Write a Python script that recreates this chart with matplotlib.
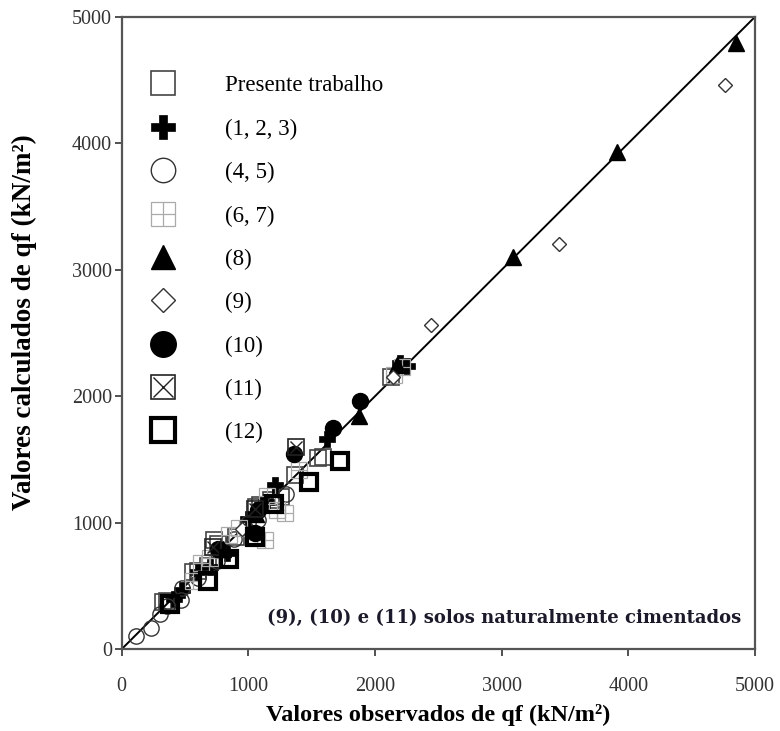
import numpy as np
import matplotlib
matplotlib.use("Agg")
import matplotlib.pyplot as plt

plt.rcParams['font.family'] = ['Liberation Serif', 'DejaVu Serif']

# observed (x) vs calculated (y) qf, kN/m2
pres_x = [330, 360, 560, 600, 730, 760, 1060, 1090, 1180, 1260, 1370, 1550, 1590, 900, 680, 2130]
pres_y = [370, 380, 610, 620, 860, 830, 1120, 1140, 1180, 1200, 1380, 1510, 1520, 890, 660, 2150]

cross_x = [2200, 2250, 1620, 1210, 1110, 1140, 830, 700, 600, 480, 410, 1000]
cross_y = [2260, 2240, 1660, 1300, 1140, 1160, 760, 650, 610, 470, 400, 1030]

circ_x = [110, 230, 300, 360, 470, 480, 600, 750, 890, 1080, 1300, 1200, 1000]
circ_y = [100, 170, 280, 340, 390, 480, 560, 700, 870, 1020, 1230, 1150, 1000]

grid_x = [1290, 1230, 1130, 1150, 560, 850, 1400, 2150, 2210, 700, 930, 630]
grid_y = [1080, 1100, 860, 1210, 540, 900, 1420, 2170, 2230, 720, 960, 680]

tri_x = [4850, 3910, 3090, 2170, 1870, 1060, 800]
tri_y = [4790, 3930, 3100, 2250, 1840, 1070, 790]

diam_x = [4760, 3450, 2440, 2140, 950]
diam_y = [4460, 3200, 2560, 2150, 950]

fcirc_x = [1880, 1670, 1360, 1080, 1050, 760]
fcirc_y = [1960, 1750, 1540, 1100, 920, 790]

xsq_x = [1380, 1050, 720]
xsq_y = [1600, 1110, 810]

tsq_x = [1720, 1480, 1050, 850, 680, 380, 1200]
tsq_y = [1490, 1320, 890, 710, 540, 360, 1150]

labels = ['Presente trabalho', '(1, 2, 3)', '(4, 5)', '(6, 7)', '(8)', '(9)',
          '(10)', '(11)', '(12)']

fig = plt.figure(figsize=(7.8, 7.31), dpi=100)
ax = fig.add_axes([0.156, 0.112, 0.812, 0.865])

ax.plot([0, 5000], [0, 5000], color='black', lw=1.4, zorder=1)

h = []
h.append(ax.plot(pres_x, pres_y, 's', ms=11, mfc='none', mec='#444444', mew=1.2)[0])
h.append(ax.plot(cross_x, cross_y, 'P', ms=11, mfc='black', mec='black', mew=0.5)[0])
h.append(ax.plot(circ_x, circ_y, 'o', ms=11, mfc='none', mec='#333333', mew=1.0)[0])
g1 = ax.plot(grid_x, grid_y, 's', ms=11, mfc='none', mec='#aaaaaa', mew=0.9)[0]
g2 = ax.plot(grid_x, grid_y, '+', ms=11, mec='#aaaaaa', mew=0.9)[0]
h.append((g1, g2))
h.append(ax.plot(tri_x, tri_y, '^', ms=11, mfc='black', mec='black')[0])
h.append(ax.plot(diam_x, diam_y, 'D', ms=7.5, mfc='white', mec='#333333', mew=1.0)[0])
h.append(ax.plot(fcirc_x, fcirc_y, 'o', ms=11.5, mfc='black', mec='black')[0])
x1 = ax.plot(xsq_x, xsq_y, 's', ms=11, mfc='none', mec='#222222', mew=1.2)[0]
x2 = ax.plot(xsq_x, xsq_y, 'x', ms=9, mec='#222222', mew=1.0)[0]
h.append((x1, x2))
h.append(ax.plot(tsq_x, tsq_y, 's', ms=11, mfc='none', mec='black', mew=3.0)[0])

leg = ax.legend(h, labels, loc='upper left', bbox_to_anchor=(-0.003, 0.94),
                frameon=False, fontsize=16.5, markerscale=1.6, labelspacing=0.97,
                handlelength=2.0, handletextpad=1.7, numpoints=1)

ax.text(0.978, 0.05, '(9), (10) e (11) solos naturalmente cimentados',
        transform=ax.transAxes, ha='right', va='center', fontsize=13,
        fontweight='bold', family='DejaVu Serif', color='#1a1a2a')

ax.set_xlim(0, 5000)
ax.set_ylim(0, 5000)
ax.set_xticks(np.arange(0, 5001, 1000))
ax.set_yticks(np.arange(0, 5001, 1000))
ax.tick_params(axis='both', direction='out', length=5, width=1.2,
               labelsize=14.5, colors='#333333', pad=2)
ax.tick_params(axis='x', pad=15)
for s in ax.spines.values():
    s.set_color('#555555')
    s.set_linewidth(1.6)

ax.set_xlabel('Valores observados de qf (kN/m²)', fontsize=17.5, fontweight='bold',
              labelpad=6)
ax.set_ylabel('Valores calculados de qf (kN/m²)', fontsize=19.5, fontweight='bold')
ax.yaxis.set_label_coords(-0.133, 0.517)

fig.savefig('out.png', dpi=100)
